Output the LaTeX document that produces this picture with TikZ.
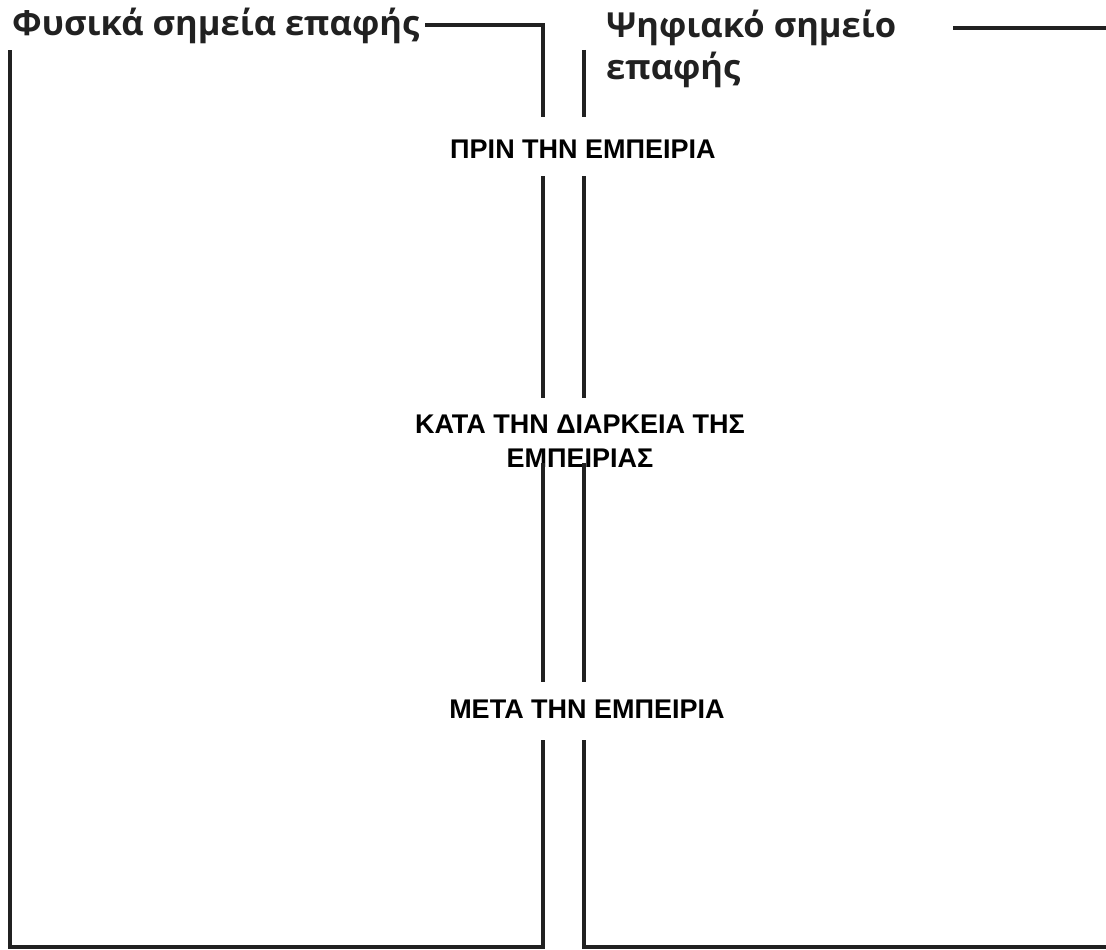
\documentclass[tikz,border=0pt]{standalone}
\usepackage{fontspec}
\newfontfamily\titlefont{Open Sans}
\newfontfamily\labelfont{Liberation Sans}
\begin{document}
\begin{tikzpicture}[x=1pt,y=-1pt,
  frame/.style={draw=black!87, line width=3.2pt},
  title/.style={inner sep=0pt, font=\titlefont\bfseries\fontsize{34.5}{43}\selectfont, text=black!87, align=left},
  phase/.style={inner sep=0pt, font=\labelfont\bfseries\fontsize{27}{34}\selectfont, text=black, align=center}]
\useasboundingbox (0,0) rectangle (1106,950);
% titles
\node[title, anchor=base west] (tphys) at (12,36) {Φυσικά σημεία επαφής};
\node[title, anchor=base west] (tdig) at (606,80) {Ψηφιακό σημείο\\επαφής};
% phase labels
\node[phase, anchor=base] (before) at (583,158) {ΠΡΙΝ ΤΗΝ ΕΜΠΕΙΡΙΑ};
\node[phase, anchor=base] (during) at (580,467) {ΚΑΤΑ ΤΗΝ ΔΙΑΡΚΕΙΑ ΤΗΣ\\ΕΜΠΕΙΡΙΑΣ};
\node[phase, anchor=base] (after) at (587,718) {ΜΕΤΑ ΤΗΝ ΕΜΠΕΙΡΙΑ};
% left frame
\coordinate (lt1) at (425,25);
\coordinate (ltc) at (543,25);
\coordinate (lbc) at (543,947);
\coordinate (lbl) at (10,947);
\coordinate (ltl) at (10,50);
\draw[frame] (lt1) -- (ltc) -- (543,117);
\draw[frame] (543,176) -- (543,398);
\draw[frame] (543,463) -- (543,682);
\draw[frame] (543,740) -- (lbc) -- (lbl) -- (ltl);
% right frame
\coordinate (rtl) at (584,50);
\coordinate (rbl) at (584,947);
\coordinate (rbr) at (1106,947);
\coordinate (rt1) at (953,28);
\coordinate (rt2) at (1106,28);
\draw[frame] (rtl) -- (584,117);
\draw[frame] (584,176) -- (584,398);
\draw[frame] (584,463) -- (584,682);
\draw[frame] (584,740) -- (rbl) -- (rbr);
\draw[frame] (rt1) -- (rt2);
\end{tikzpicture}
\end{document}
